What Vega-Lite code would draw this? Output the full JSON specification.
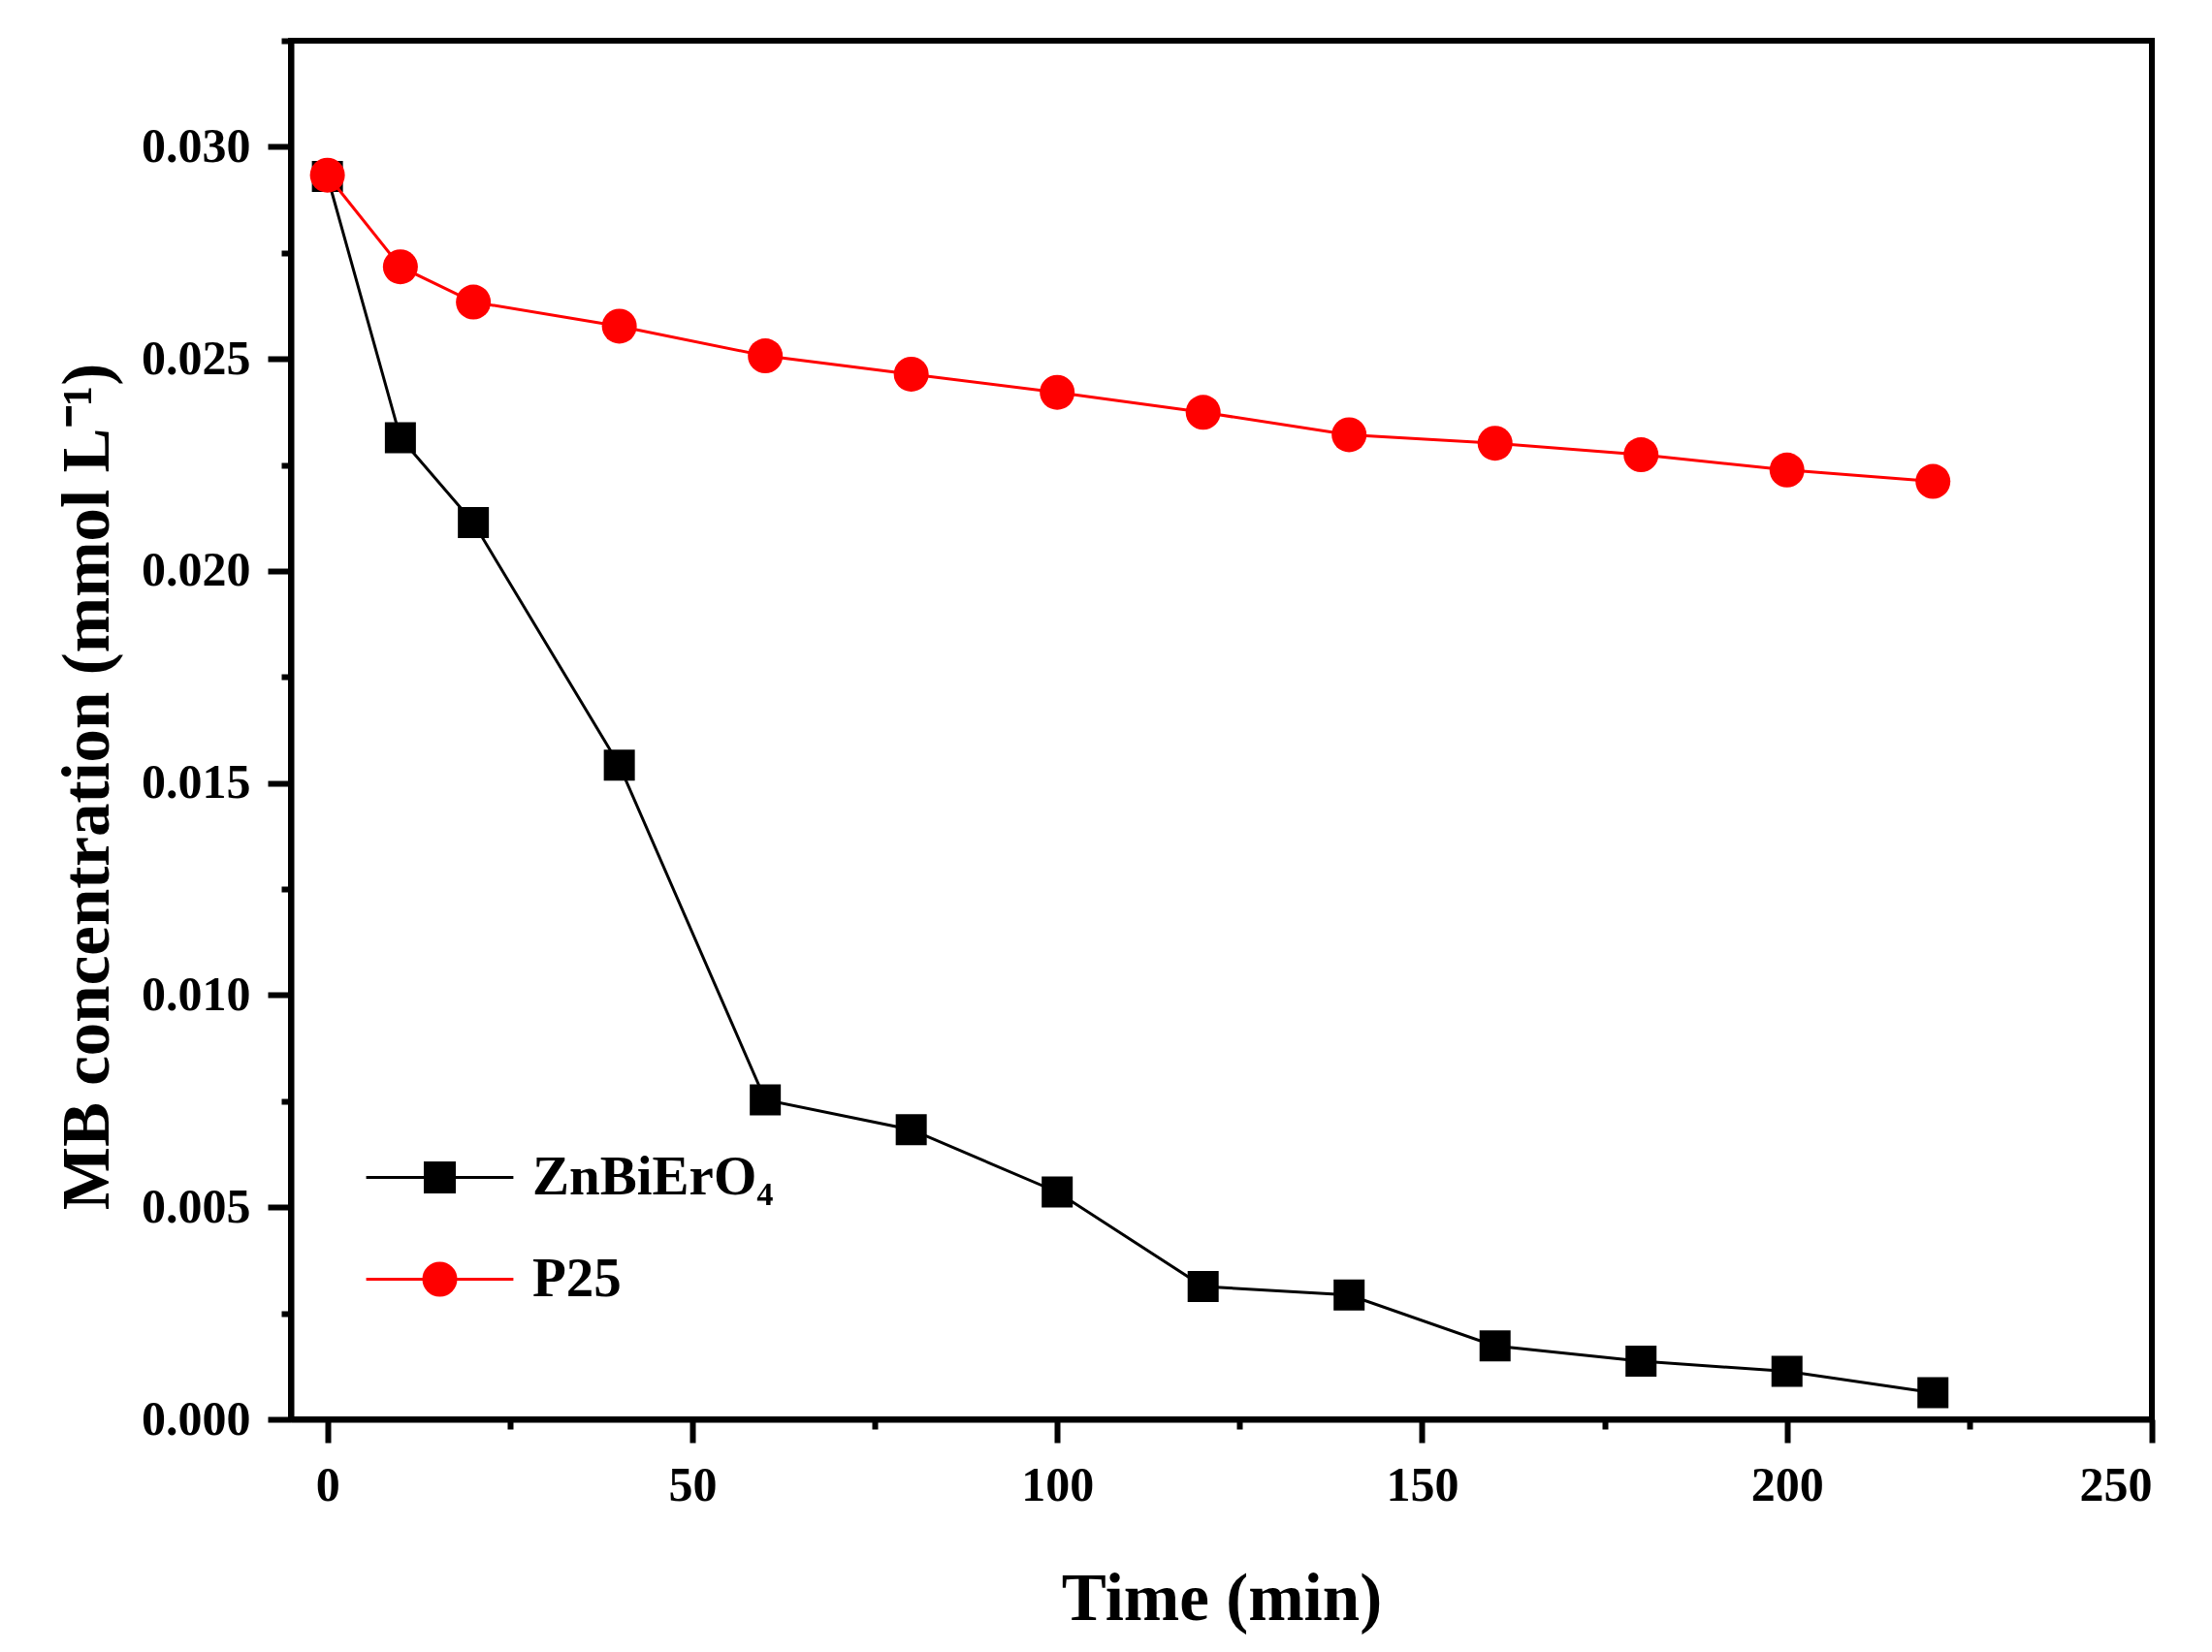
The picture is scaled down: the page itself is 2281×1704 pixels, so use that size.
{
  "$schema": "https://vega.github.io/schema/vega-lite/v6.json",
  "description": "MB concentration over time for ZnBiErO4 and P25.",
  "autosize": "none",
  "width": 1919,
  "height": 1422,
  "padding": {"left": 300, "top": 42, "right": 62, "bottom": 240},
  "background": "white",
  "view": {"stroke": "black", "strokeWidth": 6},
  "config": {
    "font": "Liberation Serif",
    "axis": {
      "domainColor": "black",
      "domainWidth": 6,
      "tickColor": "black",
      "tickWidth": 6,
      "grid": false,
      "labelFont": "Liberation Serif",
      "labelFontWeight": "bold",
      "labelFontSize": 50,
      "labelColor": "black",
      "titleFont": "Liberation Serif",
      "titleFontWeight": "bold",
      "titleFontSize": 69,
      "titleColor": "black"
    }
  },
  "data": {
    "values": [
      {"series": "ZnBiErO₄", "time": 0, "conc": 0.0293},
      {"series": "ZnBiErO₄", "time": 10, "conc": 0.02314},
      {"series": "ZnBiErO₄", "time": 20, "conc": 0.02114},
      {"series": "ZnBiErO₄", "time": 40, "conc": 0.01542},
      {"series": "ZnBiErO₄", "time": 60, "conc": 0.00753},
      {"series": "ZnBiErO₄", "time": 80, "conc": 0.00683},
      {"series": "ZnBiErO₄", "time": 100, "conc": 0.00536},
      {"series": "ZnBiErO₄", "time": 120, "conc": 0.00313},
      {"series": "ZnBiErO₄", "time": 140, "conc": 0.00293},
      {"series": "ZnBiErO₄", "time": 160, "conc": 0.00173},
      {"series": "ZnBiErO₄", "time": 180, "conc": 0.00137},
      {"series": "ZnBiErO₄", "time": 200, "conc": 0.00113},
      {"series": "ZnBiErO₄", "time": 220, "conc": 0.00063},
      {"series": "P25", "time": 0, "conc": 0.02933},
      {"series": "P25", "time": 10, "conc": 0.02717},
      {"series": "P25", "time": 20, "conc": 0.02634},
      {"series": "P25", "time": 40, "conc": 0.02577},
      {"series": "P25", "time": 60, "conc": 0.02507},
      {"series": "P25", "time": 80, "conc": 0.02464},
      {"series": "P25", "time": 100, "conc": 0.02421},
      {"series": "P25", "time": 120, "conc": 0.02374},
      {"series": "P25", "time": 140, "conc": 0.02321},
      {"series": "P25", "time": 160, "conc": 0.02301},
      {"series": "P25", "time": 180, "conc": 0.02274},
      {"series": "P25", "time": 200, "conc": 0.02238},
      {"series": "P25", "time": 220, "conc": 0.02211}
    ]
  },
  "encoding": {
    "x": {
      "field": "time",
      "type": "quantitative",
      "scale": {"domain": [-5, 250], "nice": false, "zero": false},
      "axis": {
        "title": "Time (min)",
        "values": [0, 25, 50, 75, 100, 125, 150, 175, 200, 225, 250],
        "labelExpr": "datum.value % 50 === 0 ? datum.label : ''",
        "tickSize": {"condition": {"test": "datum.value % 50 === 0", "value": 24}, "value": 10},
        "labelPadding": 19,
        "titlePadding": 58
      }
    },
    "y": {
      "field": "conc",
      "type": "quantitative",
      "scale": {"domain": [0, 0.0325], "nice": false},
      "axis": {
        "title": "MB concentration (mmol L⁻¹)",
        "titleY": 769,
        "values": [0, 0.0025, 0.005, 0.0075, 0.01, 0.0125, 0.015, 0.0175, 0.02, 0.0225, 0.025, 0.0275, 0.03, 0.0325],
        "format": ".3f",
        "labelExpr": "round(datum.value * 10000) % 50 === 0 ? datum.label : ''",
        "tickSize": {"condition": {"test": "round(datum.value * 10000) % 50 === 0", "value": 24}, "value": 10},
        "labelPadding": 18,
        "titlePadding": 20
      }
    }
  },
  "layer": [
    {
      "transform": [{"filter": "datum.series === 'ZnBiErO₄'"}],
      "mark": {"type": "line", "strokeWidth": 3, "color": "black"}
    },
    {
      "transform": [{"filter": "datum.series === 'ZnBiErO₄'"}],
      "mark": {"type": "point", "shape": "square", "filled": true, "size": 1024, "color": "black", "opacity": 1}
    },
    {
      "transform": [{"filter": "datum.series === 'P25'"}],
      "mark": {"type": "line", "strokeWidth": 3, "color": "#ff0000"}
    },
    {
      "transform": [{"filter": "datum.series === 'P25'"}],
      "mark": {"type": "point", "shape": "circle", "filled": true, "size": 1296, "color": "#ff0000", "opacity": 1}
    },
    {
      "mark": {"type": "point", "filled": true, "opacity": 0},
      "encoding": {
        "fill": {
          "field": "series",
          "type": "nominal",
          "scale": {"domain": ["ZnBiErO₄", "P25"], "range": ["black", "#ff0000"]},
          "legend": {
            "orient": "none",
            "legendX": 125,
            "legendY": 1144,
            "title": null,
            "labelFont": "Liberation Serif",
            "labelFontWeight": "bold",
            "labelFontSize": 57,
            "labelColor": "black",
            "labelLimit": 800,
            "symbolSize": 1089,
            "symbolStrokeWidth": 3,
            "symbolOpacity": 1,
            "labelOffset": 67,
            "rowPadding": 47,
            "encode": {
              "symbols": {
                "update": {
                  "fill": {"signal": "datum.value === 'P25' ? '#ff0000' : 'black'"},
                  "fillOpacity": {"value": 1},
                  "opacity": {"value": 1}
                }
              }
            }
          }
        },
        "stroke": {
          "field": "series",
          "type": "nominal",
          "scale": {"domain": ["ZnBiErO₄", "P25"], "range": ["black", "#ff0000"]}
        },
        "shape": {
          "field": "series",
          "type": "nominal",
          "scale": {
            "domain": ["ZnBiErO₄", "P25"],
            "range": [
              "M-4.6,0H4.6M-0.91,-0.91H0.91V0.91H-0.91Z",
              "M-4.6,0H4.6M-1,0A1,1,0,1,0,1,0A1,1,0,1,0,-1,0Z"
            ]
          }
        }
      }
    }
  ]
}
